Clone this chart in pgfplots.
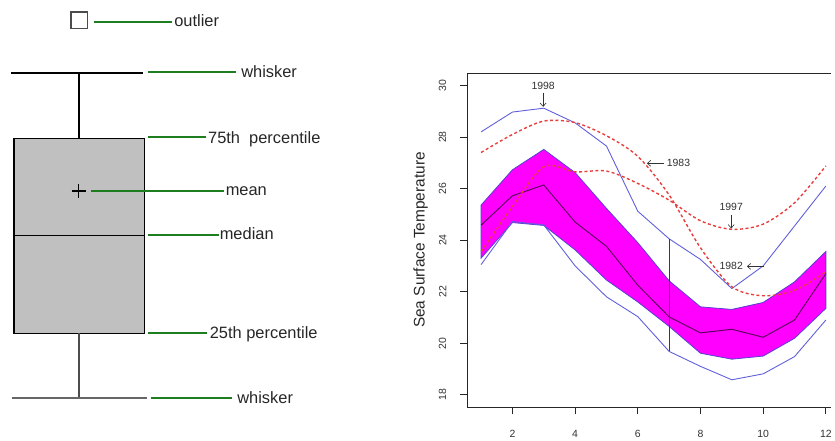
\documentclass[border=0pt]{standalone}
\usepackage{fontspec}
\setmainfont{Liberation Sans}
\usepackage{pgfplots}
\pgfplotsset{compat=1.18}
\usepackage{pgfplotstable}
\usepgfplotslibrary{fillbetween}
\usetikzlibrary{arrows.meta}

\definecolor{keygreen}{RGB}{30,125,30}
\definecolor{boxgray}{RGB}{192,192,192}
\definecolor{rangeblue}{RGB}{95,95,220}
\definecolor{bandedge}{RGB}{85,65,210}
\definecolor{bandfill}{RGB}{255,0,255}
\definecolor{sstred}{RGB}{232,62,62}
\definecolor{medline}{RGB}{95,0,95}
\definecolor{splitblue}{RGB}{40,40,205}
\definecolor{notegray}{RGB}{50,50,50}

% square marker with rounded corners
\pgfdeclareplotmark{rsquare}{%
  \pgfsetcornersarced{\pgfpoint{3bp}{3bp}}%
  \pgfpathmoveto{\pgfpoint{-\pgfplotmarksize}{0pt}}%
  \pgfpathlineto{\pgfpoint{-\pgfplotmarksize}{\pgfplotmarksize}}%
  \pgfpathlineto{\pgfpoint{\pgfplotmarksize}{\pgfplotmarksize}}%
  \pgfpathlineto{\pgfpoint{\pgfplotmarksize}{-\pgfplotmarksize}}%
  \pgfpathlineto{\pgfpoint{-\pgfplotmarksize}{-\pgfplotmarksize}}%
  \pgfpathclose
  \pgfusepathqfillstroke
}

% monthly sea surface temperatures
\pgfplotstableread{
month bandhi bandlo median bluehi bluelo yA yB
1  25.36 23.30 24.58 28.20 23.05 27.40 23.55
2  26.73 24.68 25.72 28.97 24.72 28.10 25.30
3  27.52 24.57 26.14 29.12 24.59 28.62 26.85
4  26.62 23.62 24.70 28.55 23.00 28.56 26.65
5  25.23 22.45 23.76 27.65 21.80 28.05 26.68
6  23.90 21.60 22.25 25.12 21.03 27.25 26.20
7  22.42 20.65 21.02 24.05 19.68 25.75 25.55
8  21.41 19.61 20.40 23.25 19.10 23.70 24.75
9  21.31 19.38 20.54 22.12 18.58 22.19 24.42
10 21.58 19.50 20.23 23.00 18.81 21.84 24.62
11 22.38 20.19 20.90 24.55 19.48 22.05 25.45
12 23.56 21.35 22.70 26.10 20.90 22.77 26.88
}\sst

\begin{document}
\begin{tikzpicture}
\path (0,0) rectangle (835bp,434bp);

% ---- box plot key ----
\begin{axis}[
  at={(0,0)}, anchor=south west,
  scale only axis, width=340bp, height=434bp,
  xmin=0, xmax=340, ymin=0, ymax=434, y dir=reverse,
  axis lines=none, clip=false,
]
% whiskers, box, median
\addplot[black, line width=1.2bp] coordinates {(11,73.3) (144,73.3)};
\addplot[black, line width=1.2bp] coordinates {(79.3,73.3) (79.3,139.3)};
\addplot[draw=black, fill=boxgray, line width=1.2bp] coordinates {(14,139.3) (145,139.3) (145,335) (14,335)} -- cycle;
\addplot[black, line width=1.2bp] coordinates {(14,237) (145,237)};
\addplot[black!70, line width=1.3bp] coordinates {(79.3,335) (79.3,400)};
\addplot[black!60, line width=1.4bp] coordinates {(12,400) (148,400)};
% mean and outlier
\addplot[only marks, mark=+, mark size=7bp, mark options={black, line width=1.2bp}] coordinates {(79,192)};
\addplot[only marks, mark=rsquare, mark size=8.3bp, mark options={draw=black!70, fill=white, line width=1.5bp}] coordinates {(79.8,20.5)};
% leader lines
\addplot[keygreen, line width=2.2bp] coordinates {(94,21.7) (173,21.7)};
\addplot[keygreen, line width=2.2bp] coordinates {(149,72.3) (236.7,72.3)};
\addplot[keygreen, line width=2.2bp] coordinates {(149,137.7) (207,137.7)};
\addplot[keygreen, line width=2.2bp] coordinates {(91.7,191.7) (225,191.7)};
\addplot[keygreen, line width=2.2bp] coordinates {(149,236) (220,236)};
\addplot[keygreen, line width=2.2bp] coordinates {(149,334.3) (208,334.3)};
\addplot[keygreen, line width=2.2bp] coordinates {(151.7,400) (233,400)};
% labels
\begin{scope}[every node/.style={font=\fontsize{16.5bp}{19bp}\selectfont, inner sep=0pt, anchor=base west, text=black!85}]
\node at (axis cs:175,26.7) {outlier};
\node at (axis cs:242.3,78.3) {whisker};
\node at (axis cs:209,144) {75th\ \ percentile};
\node at (axis cs:226.7,196.7) {mean};
\node at (axis cs:220.7,241) {median};
\node at (axis cs:210.7,340) {25th percentile};
\node at (axis cs:238.3,405) {whisker};
\end{scope}
\end{axis}

% ---- monthly SST chart ----
\begin{axis}[
  at={(469.6bp,24.9bp)}, anchor=south west,
  scale only axis, width=365.4bp, height=335.6bp,
  xmin=0.56, xmax=12.16, ymin=17.52, ymax=30.48,
  axis x line*=box, axis y line*=left,
  xtick={2,4,...,12}, ytick={18,20,...,30},
  tick align=outside, tick pos=left, major tick length=7bp,
  axis line style={-, black!85, line width=1.1bp},
  tick style={black!85, line width=0.8bp},
  ticklabel style={font=\fontsize{10.5bp}{12bp}\selectfont, text=black!80},
  /pgf/number format/assume math mode=true,
  xticklabel shift=12.6bp,
  yticklabel style={rotate=90, anchor=south},
  yticklabel shift=10.6bp,
  ylabel={Sea Surface\ Temperature},
  ylabel style={font=\fontsize{15.5bp}{18bp}\selectfont, text=black!85, at={(axis description cs:-0.128,0.5)}, anchor=center},
]
\addplot[name path=hi, draw=none] table[x=month, y=bandhi] {\sst};
\addplot[name path=lo, draw=none] table[x=month, y=bandlo] {\sst};
\addplot[fill=bandfill, draw=bandedge, line width=0.8bp] fill between[of=hi and lo];
\addplot[medline, line width=1bp] table[x=month, y=median] {\sst};
\addplot[rangeblue, line width=0.9bp] table[x=month, y=bluehi] {\sst};
\addplot[rangeblue, line width=0.9bp] table[x=month, y=bluelo] {\sst};
\addplot[splitblue, line width=1bp] coordinates {(7,24.05) (7,19.68)};
\addplot[sstred, line width=1.4bp, dash pattern=on 3bp off 2.5bp, smooth, tension=0.5] table[x=month, y=yA] {\sst};
\addplot[sstred, line width=1.4bp, dash pattern=on 3bp off 2.5bp, smooth, tension=0.5] table[x=month, y=yB] {\sst};
% year annotations
\begin{scope}[every node/.style={font=\fontsize{10.5bp}{12bp}\selectfont, text=notegray}]
\addplot[notegray, line width=0.6bp, -{Straight Barb[length=3.5bp,width=6bp]}] coordinates {(2.98,29.72) (2.98,29.17)};
\node at (axis cs:2.98,29.97) {1998};
\addplot[notegray, line width=0.6bp, -{Straight Barb[length=3.5bp,width=6bp]}] coordinates {(6.82,26.98) (6.29,26.98)};
\node[anchor=west, inner sep=0pt] at (axis cs:6.92,26.98) {1983};
\addplot[notegray, line width=0.6bp, -{Straight Barb[length=3.5bp,width=6bp]}] coordinates {(8.98,24.97) (8.98,24.45)};
\node at (axis cs:8.98,25.27) {1997};
\addplot[notegray, line width=0.6bp, -{Straight Barb[length=3.5bp,width=6bp]}] coordinates {(10.04,22.98) (9.48,22.98)};
\node at (axis cs:8.98,22.98) {1982};
\end{scope}
\end{axis}
\end{tikzpicture}
\end{document}
